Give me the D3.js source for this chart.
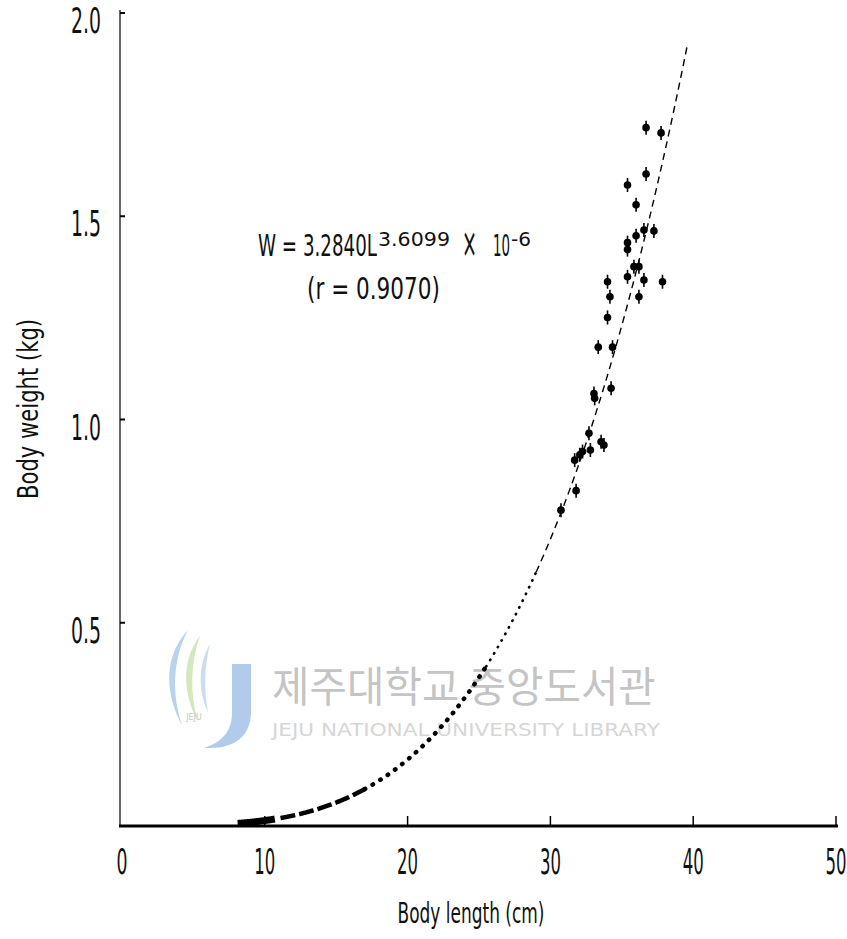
<!DOCTYPE html>
<html>
<head>
<meta charset="utf-8">
<script src="https://cdn.jsdelivr.net/npm/d3@7"></script>
<style>
  body { margin: 0; background: #fff; }
  svg { display: block; }
</style>
</head>
<body>
<div id="chart"></div>
<script>
var width = 847, height = 939;

// body length (cm) of each fish
var lengths = [36.7, 37.75, 36.7, 35.4, 36.0, 36.55, 37.25, 36.0, 35.4, 35.4,
               35.85, 36.2, 35.4, 34.0, 36.55, 37.85, 34.17, 36.2, 34.0, 33.35,
               34.35, 34.25, 33.05, 33.1, 32.7, 33.55, 33.75, 32.8, 32.25, 32.06,
               31.7, 31.8, 30.74];
// body weight (kg) of each fish
var weights = [1.718, 1.705, 1.604, 1.577, 1.528, 1.466, 1.464, 1.452, 1.435, 1.418,
               1.376, 1.376, 1.351, 1.339, 1.343, 1.339, 1.302, 1.302, 1.251, 1.178,
               1.178, 1.077, 1.064, 1.052, 0.966, 0.945, 0.937, 0.925, 0.921, 0.913,
               0.900, 0.825, 0.777];

var xTicks = [0, 10, 20, 30, 40, 50];
var yTicks = [0.5, 1.0, 1.5, 2.0];

// fitted curve W = a * L^b, as printed on the chart
var fitA = 3.2840e-6;
var fitB = 3.6099;

var x = d3.scaleLinear().domain([0, 50]).range([122, 836]);
var y = d3.scaleLinear().domain([0, 2]).range([826, 13]);

var svg = d3.select("#chart").append("svg")
    .attr("width", width)
    .attr("height", height);

var font = "'DejaVu Sans', sans-serif";

// condensed text: draw, measure, squeeze to the wanted width
function fitText(parent, str, px, py, size, w, anchor, fill, family) {
    var g = parent.append("g");
    var t = g.append("text")
        .attr("font-family", family || font)
        .attr("font-size", size)
        .attr("text-anchor", anchor || "start")
        .attr("fill", fill || "#111")
        .text(str);
    var len = t.node().getComputedTextLength();
    g.attr("transform", "translate(" + px + "," + py + ") scale(" + (w / len) + ",1)");
    return g;
}

// ---- watermark ----
var wm = svg.append("g");
wm.append("path")
    .attr("d", "M188,630 C160,660 168,700 182,725 C172,695 172,660 188,630 Z")
    .attr("fill", "#b9d3ee");
wm.append("path")
    .attr("d", "M200,636 C178,664 186,700 198,722 C190,694 190,664 200,636 Z")
    .attr("fill", "#d5e7bd");
wm.append("path")
    .attr("d", "M210,644 C196,668 200,696 208,712 C204,690 204,668 210,644 Z")
    .attr("fill", "#c9dcf0");
wm.append("path")
    .attr("d", "M232,664 L251,664 L251,712 C251,735 236,748 210,748 L204,748 C222,742 232,732 232,712 Z")
    .attr("fill", "#b3cbeb");
wm.append("text")
    .attr("x", 194).attr("y", 720)
    .attr("font-family", font).attr("font-size", 8)
    .attr("fill", "#c4c4c4").attr("text-anchor", "middle")
    .text("JEJU");
fitText(wm, "제주대학교 중앙도서관", 272, 702, 42, 384, "start", "#c4c4c4",
    "'Noto Sans CJK KR', sans-serif");
fitText(wm, "JEJU NATIONAL UNIVERSITY LIBRARY", 272, 736, 17, 388, "start", "#d6d6d6");

// ---- axes ----
svg.append("line")
    .attr("x1", 120).attr("x2", 120)
    .attr("y1", 10).attr("y2", 826)
    .attr("stroke", "#333").attr("stroke-width", 1.5);

svg.append("line")
    .attr("x1", 119).attr("x2", 838)
    .attr("y1", 826).attr("y2", 826)
    .attr("stroke", "#000").attr("stroke-width", 3);

svg.selectAll(".ytick")
    .data(yTicks)
    .enter().append("line")
    .attr("class", "ytick")
    .attr("x1", 120).attr("x2", 125)
    .attr("y1", function(d) { return y(d); })
    .attr("y2", function(d) { return y(d); })
    .attr("stroke", "#000").attr("stroke-width", 2);

svg.selectAll(".xtick")
    .data(xTicks.filter(function(d) { return d > 0; }))
    .enter().append("line")
    .attr("class", "xtick")
    .attr("x1", function(d) { return x(d); })
    .attr("x2", function(d) { return x(d); })
    .attr("y1", 826).attr("y2", 816)
    .attr("stroke", "#000").attr("stroke-width", 1.5);

yTicks.forEach(function(d) {
    fitText(svg, d.toFixed(1), 101, y(d) + 20, 35, 30, "end");
});

xTicks.forEach(function(d) {
    var w = d === 0 ? 11 : 21;
    fitText(svg, String(d), x(d), 874, 35, w, "middle");
});

fitText(svg, "Body length (cm)", 471, 923, 28, 147, "middle");

var yt = fitText(svg, "Body weight (kg)", 0, 0, 28, 180, "middle");
yt.attr("transform", "translate(38,409) rotate(-90) scale(" +
    (180 / yt.select("text").node().getComputedTextLength()) + ",1)");

// ---- fitted curve ----
var curve = d3.line()
    .x(function(L) { return x(L); })
    .y(function(L) { return y(fitA * Math.pow(L, fitB)); });

function curvePart(from, to, sw, dash, cap) {
    svg.append("path")
        .datum(d3.range(from, to, 0.05).concat([to]))
        .attr("d", curve)
        .attr("fill", "none")
        .attr("stroke", "#000")
        .attr("stroke-width", sw)
        .attr("stroke-dasharray", dash)
        .attr("stroke-linecap", cap || "butt");
}

curvePart(8.1, 10.7, 7, null);
curvePart(11.1, 17, 4.5, "15,4");
curvePart(17, 25.5, 4.5, "0.5,8.5", "round");
curvePart(25.5, 29, 2.6, "0.5,7", "round");
curvePart(29, 39.6, 1.4, "7,5");

// ---- observations ----
var points = lengths.map(function(L, i) { return { L: L, W: weights[i] }; });

svg.selectAll(".stem")
    .data(points)
    .enter().append("line")
    .attr("class", "stem")
    .attr("x1", function(p) { return x(p.L); })
    .attr("x2", function(p) { return x(p.L); })
    .attr("y1", function(p) { return y(p.W) - 7; })
    .attr("y2", function(p) { return y(p.W) + 7; })
    .attr("stroke", "#000").attr("stroke-width", 1.6);

svg.selectAll(".dot")
    .data(points)
    .enter().append("circle")
    .attr("class", "dot")
    .attr("r", 3.8)
    .attr("cx", function(p) { return x(p.L); })
    .attr("cy", function(p) { return y(p.W); })
    .attr("fill", "#000");

// ---- equation ----
fitText(svg, "W = 3.2840L", 258, 256, 31, 119);
fitText(svg, "3.6099", 378, 246, 19, 72);
fitText(svg, "×", 462, 257, 40, 15);
fitText(svg, "10", 493, 256, 31, 17);
fitText(svg, "-6", 511, 246, 19, 20);
fitText(svg, "(r = 0.9070)", 307, 299, 31, 133);
</script>
</body>
</html>
